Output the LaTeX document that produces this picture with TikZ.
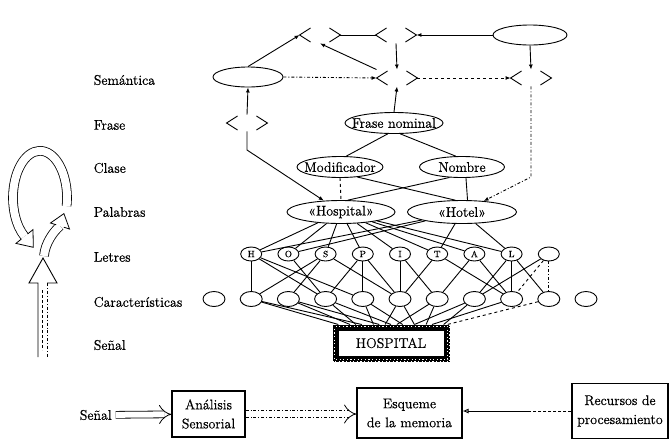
\documentclass[tikz,border=0pt]{standalone}
\usepackage{fontspec}
\newfontfamily\heavy{Latin Modern Roman}[FakeBold=0.6]
\usetikzlibrary{arrows.meta,shapes.geometric,calc}

\tikzset{
  lab/.style={anchor=west, font=\heavy\fontsize{14}{16}\selectfont},
  lvl/.style={ellipse, draw, inner xsep=-9pt, inner ysep=0pt, minimum height=21pt, font=\heavy\fontsize{14}{16}\selectfont},
  ltr/.style={ellipse, draw, minimum width=21pt, minimum height=14pt, inner sep=0pt, font=\heavy\fontsize{9}{9}\selectfont},
  feat/.style={ellipse, draw, minimum width=22pt, minimum height=15pt, inner sep=0pt},
  slot/.style={minimum width=40pt, minimum height=16pt, inner sep=0pt},
  arr/.style={-{Latex[length=5pt,width=4pt]}},
  blk/.style={draw, line width=1.1pt, align=center, inner sep=0pt, font=\heavy\fontsize{14}{19}\selectfont},
  sigbox/.style={draw, line width=6pt, minimum width=111pt, minimum height=31pt, font=\heavy\fontsize{14}{16}\selectfont},
  dbl/.style={double, double distance=6pt, line width=0.8pt, -{Implies}},
  band/.style={double, double distance=8pt, line width=0.8pt},
  headtip/.style={fill=white, line width=0.8pt}
}

\begin{document}
\begin{tikzpicture}[x=1pt, y=-1pt, line width=0.9pt]
  \useasboundingbox (0,0) rectangle (669,440);
  \clip (0,0) rectangle (669,440);

  % etiquetas de los niveles
  \foreach \t/\y [count=\i] in {Semántica/80, Frase/125, Clase/168, Palabras/212,
      Letres/257, Características/302, Señal/345} {
    \node[lab] (lab\i) at (90,\y) {\t};
  }

  % huecos < >
  \node[slot] (s1) at (320,35) {};
  \node[slot] (s2) at (396,35) {};
  \node[slot] (s3) at (397,78) {};
  \node[slot] (s4) at (531,78) {};
  \node[slot] (s5) at (247,123) {};
  \foreach \s in {s1,s2,s3,s4,s5} {
    \draw ([xshift=11pt,yshift=7pt]\s.west) -- (\s.west) -- ([xshift=11pt,yshift=-7pt]\s.west);
    \draw ([xshift=-11pt,yshift=7pt]\s.east) -- (\s.east) -- ([xshift=-11pt,yshift=-7pt]\s.east);
  }

  % elipses
  \node[lvl, minimum width=74pt, minimum height=20pt] (top) at (530,35) {};
  \node[lvl, minimum width=70pt, minimum height=20pt] (sem) at (248,77) {};
  \node[lvl, minimum width=98pt] (fn) at (394,123) {Frase nominal};
  \node[lvl, minimum width=86pt] (mod) at (340,167) {Modificador};
  \node[lvl, minimum width=85pt] (nom) at (462,167) {Nombre};
  \node[lvl, minimum width=108pt, minimum height=23pt] (hosp) at (341,212) {«Hospital»};
  \node[lvl, minimum width=109pt, minimum height=23pt] (hotel) at (462,212) {«Hotel»};

  % letras y caracteristicas
  \foreach \k/\l in {1/H,2/O,3/S,4/P,5/I,6/T,7/A,8/L,9/{}} {
    \node[ltr] (l\k) at ({214+37.2*\k},254) {\l};
  }
  \foreach \k in {0,...,10} {
    \node[feat] (c\k) at ({214+37.2*\k},299) {};
  }

  % senal
  \node[sigbox] (sig) at (391,343) {HOSPITAL};
  \foreach \d/\p in {0pt/0pt, 1.9pt/1.2pt, -1.9pt/2.4pt} {
    \draw[white, line width=1.2pt, dash pattern=on 1.2pt off 2.4pt, dash phase=\p]
      ([xshift=\d,yshift=-\d]sig.north west) rectangle ([xshift=-\d,yshift=\d]sig.south east);
  }

  % conexiones superiores
  \draw (s1) -- (s2);
  \draw[arr] (top) -- (s2);
  \draw[arr] (sem.north) -- (s1.west);
  \draw[arr] (s3.north west) -- (s1.south);
  \draw[arr] (s2.south) -- (s3.north);
  \draw[arr] (top.south) -- (s4.north);
  \draw[arr, dash dot] (sem.east) -- (s3.west);
  \draw[arr, dashed] (s3.east) -- (s4.west);
  \draw[arr] (fn.north) -- (s3.south);
  \draw[arr] (s5.north) -- (sem.south);
  \coordinate (k5) at (247,150);
  \coordinate (k4) at (531,177);
  \draw[arr] (s5.south) -- (k5) -- (hosp);
  \draw[arr, dash dot] (s4.south) -- (k4) -- (hotel);

  % frase, clase y palabras
  \draw (fn.240) -- (mod.60);
  \draw (fn.300) -- (nom.120);
  \draw[dashed] (mod.south) -- (hosp.north);
  \draw (mod.330) -- (hotel.120);
  \draw (nom.220) -- (hosp.60);
  \draw (nom.290) -- (hotel.65);

  % palabras a letras
  \foreach \k in {1,...,8} {
    \draw (hosp) -- (l\k);
  }
  \foreach \k in {1,2,6,8} {
    \draw (hotel) -- (l\k);
  }

  % letras a caracteristicas
  \foreach \a/\b in {1/1,1/3,1/4,2/3,3/1,3/2,3/5,4/3,4/4,4/5,5/5,5/6,
      6/5,6/8,7/6,7/8,8/7,8/8,8/9,9/7} {
    \draw (l\a) -- (c\b);
  }
  \draw[dashed] (l9) -- (c8);
  \draw[dash dot] (l9) -- (c9);

  % caracteristicas a la senal
  \foreach \k/\f in {1/0.05,1/0.25,2/0.15,2/0.4,3/0.2,3/0.5,4/0.35,4/0.6,5/0.45,
      5/0.7,6/0.55,6/0.8,7/0.7,7/0.95,8/0.85} {
    \draw (c\k) -- ($(sig.north west)!\f!(sig.north east)$);
  }
  \draw[dashed] (c9) -- ($(sig.north west)!0.98!(sig.north east)$);

  % ciclo de la izquierda
  \draw[band] (44,256) .. controls (45,243) and (54,231) .. (60,226);
  \draw[headtip] (63.8,227.2) -- (69.5,229) -- (63.9,213.6) -- (50.5,223) -- (56.2,224.8);
  \draw[band] (66.6,206) arc[start angle=10, end angle=-235, x radius=27, y radius=47];
  \draw[headtip] (27.6,234) -- (33,229.6) -- (33.3,247.3) -- (16,243.4) -- (21.4,239);
  \draw (38,357) -- (38,283) -- (29,283) -- (43,258) -- (57,283) -- (47,283);
  \draw[dash dot] (47,283) -- (47,357);
  \draw[densely dashed, line width=0.6pt] (42.5,290) -- (42.5,350);

  % esquema inferior
  \node[lab] (lab8) at (76,415) {Señal};
  \node[blk, minimum width=73pt, minimum height=46pt] (ana) at (208.5,414) {Análisis\\Sensorial};
  \node[blk, minimum width=105pt, minimum height=50pt] (esq) at (409.5,413) {Esqueme\\de la memoria};
  \node[blk, minimum width=96pt, minimum height=55pt] (rec) at (620,411) {Recursos de\\procesamiento};
  \draw[dbl] (lab8) -- (ana);
  \draw[dbl, dash dot] (ana.east) -- (ana.east -| esq.west);
  \coordinate (rm) at (530,411);
  \draw[densely dashed] (rec.west) -- (rm);
  \draw[-{Latex[open,length=6pt,width=5pt]}] (rm) -- (rec.west -| esq.east);
\end{tikzpicture}
\end{document}
